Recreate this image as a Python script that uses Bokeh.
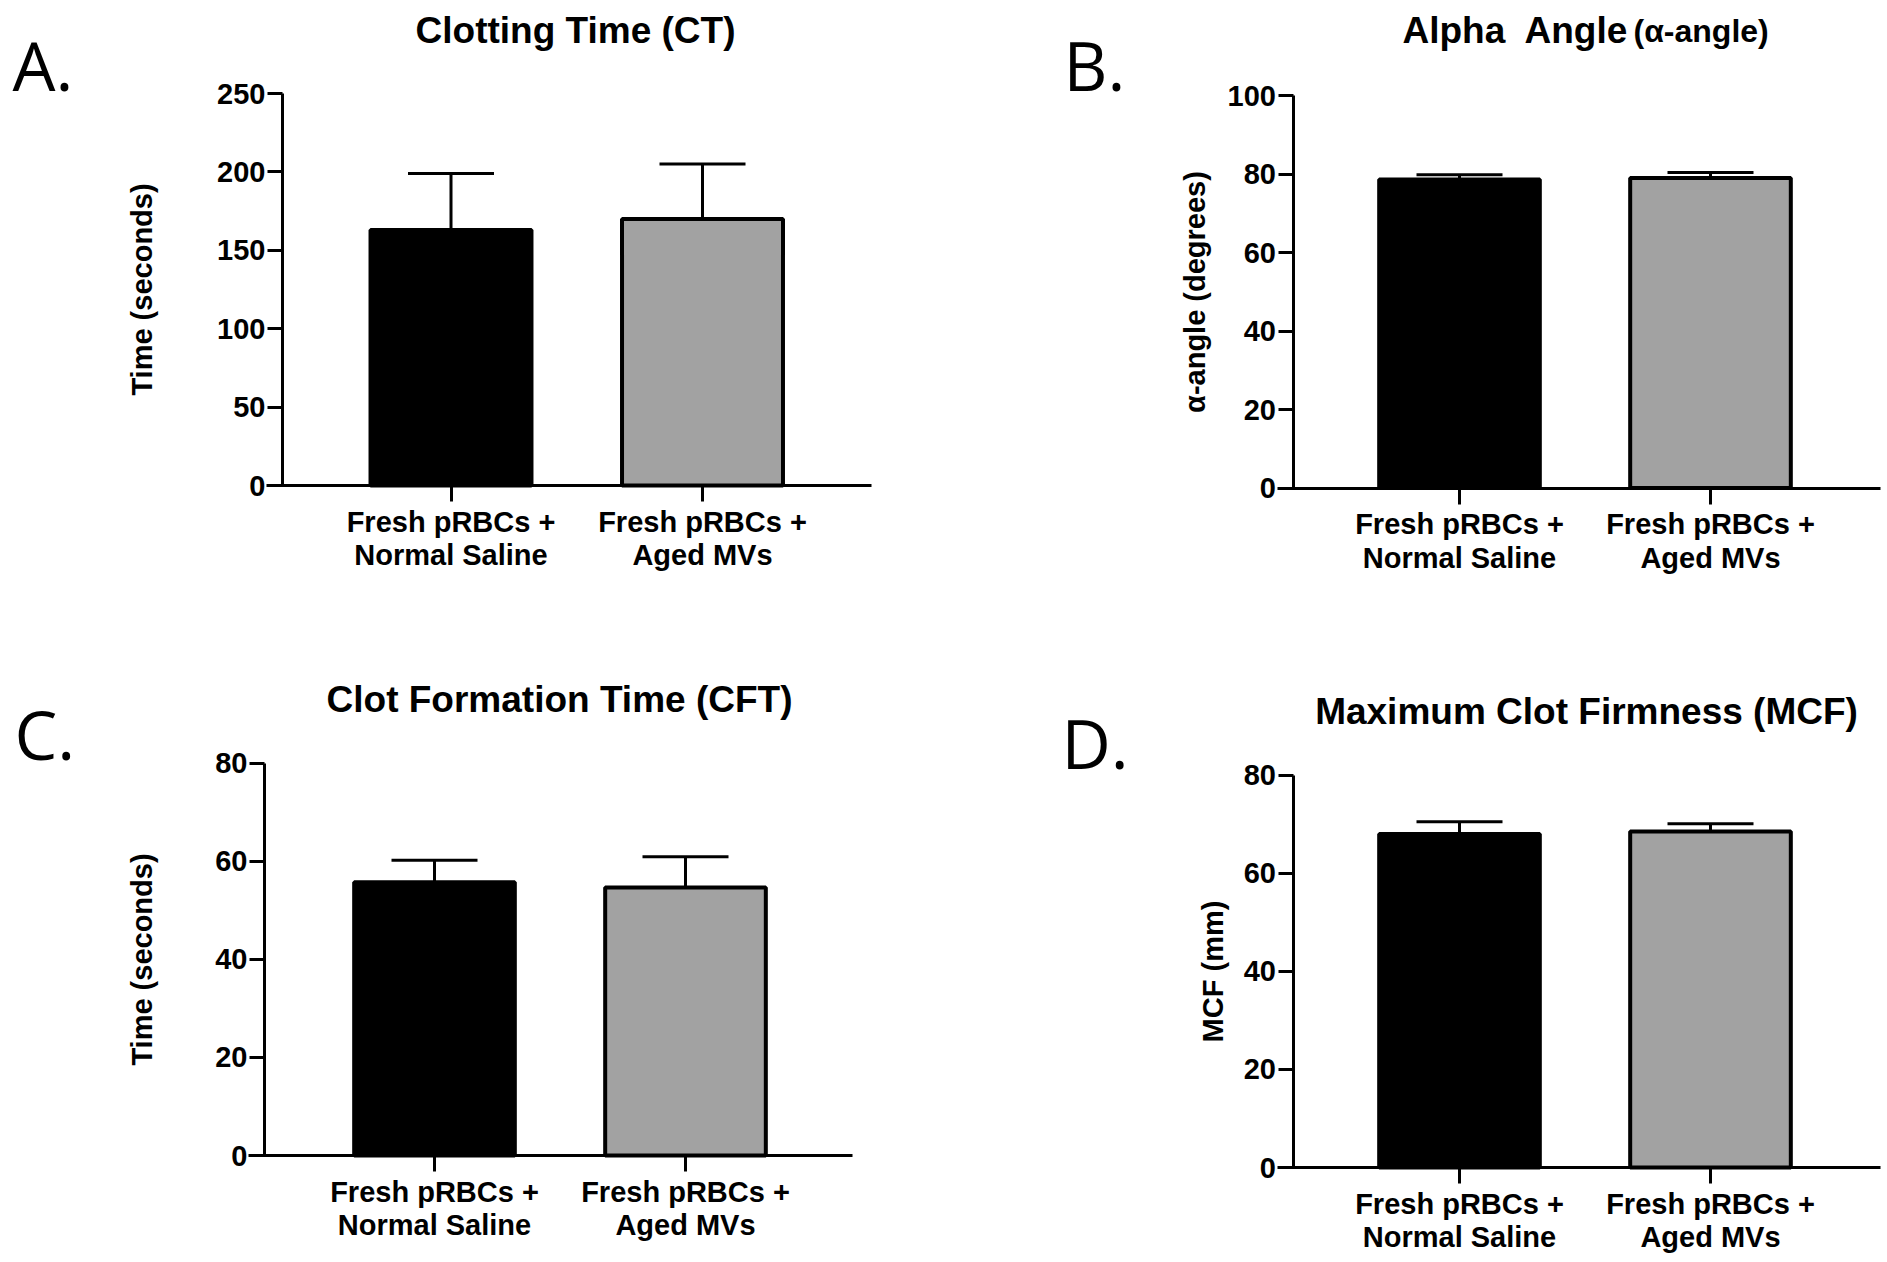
from bokeh.plotting import figure
from bokeh.models import Range1d, FixedTicker, Whisker, TeeHead, ColumnDataSource
from bokeh.layouts import column, row
from bokeh.embed import file_html
from bokeh.resources import INLINE
from bokeh.core.properties import value

# ---------------- data ----------------
groups = ["Fresh pRBCs +\nNormal Saline", "Fresh pRBCs +\nAged MVs"]
bar_colors = ["#000000", "#a2a2a2"]

panel_letters = ["A.", "B.", "C.", "D."]
panel_titles = ["Clotting Time (CT)", "Alpha\u00a0 Angle", "Clot Formation Time (CFT)", "Maximum Clot Firmness (MCF)"]
alpha_title_suffix = "(\u03b1-angle)"
y_labels = ["Time (seconds)", "\u03b1-angle (degrees)", "Time (seconds)", "MCF (mm)"]

ct_mean = [163.0, 170.0]
ct_upper = [199.0, 205.0]
ct_ticks = [0, 50, 100, 150, 200, 250]

alpha_mean = [78.6, 79.0]
alpha_upper = [79.8, 80.4]
alpha_ticks = [0, 20, 40, 60, 80, 100]

cft_mean = [55.7, 54.6]
cft_upper = [60.2, 60.9]
cft_ticks = [0, 20, 40, 60, 80]

mcf_mean = [68.0, 68.5]
mcf_upper = [70.5, 70.1]
mcf_ticks = [0, 20, 40, 60, 80]

FONT = "Liberation Sans"
group_pos = list(range(1, len(groups) + 1))


def make_panel(letter, title_parts, ylabel, mean, upper, ticks, geom):
    X0, Y0, W, H = geom["fig"]          # page placement of the figure
    Pb, Pt = geom["y_px"]               # page y of value 0 and of the top tick
    c1, c2 = geom["x_px"]               # page x of the two group centres
    ax_x, xl, xr = geom["axes_px"]      # y-axis x, x-axis left/right ends
    top = ticks[-1]
    ky = (Pb - Pt) / top
    kx = c2 - c1

    def xd(px):
        return group_pos[0] + (px - c1) / kx

    def yd(py):
        return (Pb - py) / ky

    p = figure(width=W, height=H,
               x_range=Range1d(xd(X0), xd(X0 + W)), y_range=Range1d(yd(Y0 + H), yd(Y0)),
               min_border=0, title_location=None,
               toolbar_location=None, tools="", output_backend="svg")
    p.outline_line_color = None
    p.background_fill_color = "white"
    p.border_fill_color = "white"
    p.grid.visible = False

    src = ColumnDataSource(dict(x=group_pos, top=mean, upper=upper, color=bar_colors))
    p.vbar(x="x", top="top", width=0.64, source=src, fill_color="color",
           line_color="black", line_width=4)
    p.add_layout(Whisker(base="x", lower="top", upper="upper", source=src, dimension="height",
                         line_color="black", line_width=3,
                         upper_head=TeeHead(size=86, line_width=3, line_color="black"),
                         lower_head=None))

    for ax in (p.xaxis[0], p.yaxis[0]):
        ax.axis_line_width = 3
        ax.axis_line_color = "black"
        ax.major_tick_line_width = 3
        ax.major_tick_line_color = "black"
        ax.major_tick_in = 0
        ax.minor_tick_line_color = None
        ax.major_label_text_font = FONT
        ax.major_label_text_font_style = "bold"
        ax.major_label_text_font_size = "29px"
        ax.major_label_text_color = "black"

    ya = p.yaxis[0]
    ya.fixed_location = xd(ax_x)
    ya.bounds = (0, top)
    ya.ticker = FixedTicker(ticks=ticks)
    ya.major_tick_out = 15
    ya.major_label_standoff = 2
    ya.axis_label = ylabel
    ya.axis_label_text_font = FONT
    ya.axis_label_text_font_style = "bold"
    ya.axis_label_text_font_size = "29px"
    ya.axis_label_text_color = "black"
    ya.axis_label_standoff = geom["ylab_standoff"]

    xa = p.xaxis[0]
    xa.fixed_location = 0
    xa.bounds = (xd(xl), xd(xr))
    xa.ticker = FixedTicker(ticks=group_pos)
    xa.major_label_overrides = {pos: g for pos, g in zip(group_pos, groups)}
    xa.major_tick_out = 16
    xa.major_label_standoff = 4
    xa.major_label_text_line_height = 1.05

    lx, ly = geom["letter_px"]
    p.text(x=[xd(lx)], y=[yd(ly)], text=[letter], text_font=value("Open Sans"),
           text_font_size="68px", text_color="black", text_align="left", text_baseline="alphabetic")
    for txt, tx, ty, size, align in title_parts:
        p.text(x=[xd(tx)], y=[yd(ty)], text=[txt], text_font=value(FONT),
               text_font_style="bold", text_font_size=size, text_color="black",
               text_align=align, text_baseline="alphabetic")
    return p


pA = make_panel(panel_letters[0], [(panel_titles[0], 575, 30, "37px", "center")],
                y_labels[0], ct_mean, ct_upper, ct_ticks,
                dict(fig=(0, 0, 950, 596), y_px=(485, 93), x_px=(450.5, 702),
                     axes_px=(282, 266, 871), letter_px=(12, 64), ylab_standoff=56))
pB = make_panel(panel_letters[1], [(panel_titles[1], 1402, 30, "37px", "left"),
                                   (alpha_title_suffix, 1633, 30, "32px", "left")],
                y_labels[1], alpha_mean, alpha_upper, alpha_ticks,
                dict(fig=(950, 0, 935, 596), y_px=(487.5, 95), x_px=(1459, 1710),
                     axes_px=(1292.5, 1277, 1880), letter_px=(1063, 64), ylab_standoff=14))
pC = make_panel(panel_letters[2], [(panel_titles[2], 559, 699, "37px", "center")],
                y_labels[2], cft_mean, cft_upper, cft_ticks,
                dict(fig=(0, 596, 950, 664), y_px=(1155, 762.5), x_px=(434, 685),
                     axes_px=(264, 248, 852), letter_px=(14, 733), ylab_standoff=54))
pD = make_panel(panel_letters[3], [(panel_titles[3], 1586, 711, "37px", "center")],
                y_labels[3], mcf_mean, mcf_upper, mcf_ticks,
                dict(fig=(950, 596, 935, 664), y_px=(1167, 774.6), x_px=(1459, 1710),
                     axes_px=(1292.5, 1277, 1880), letter_px=(1061, 742), ylab_standoff=12))

layout = column(row(pA, pB), row(pC, pD))
open("out.html", "w").write(file_html(layout, INLINE))
